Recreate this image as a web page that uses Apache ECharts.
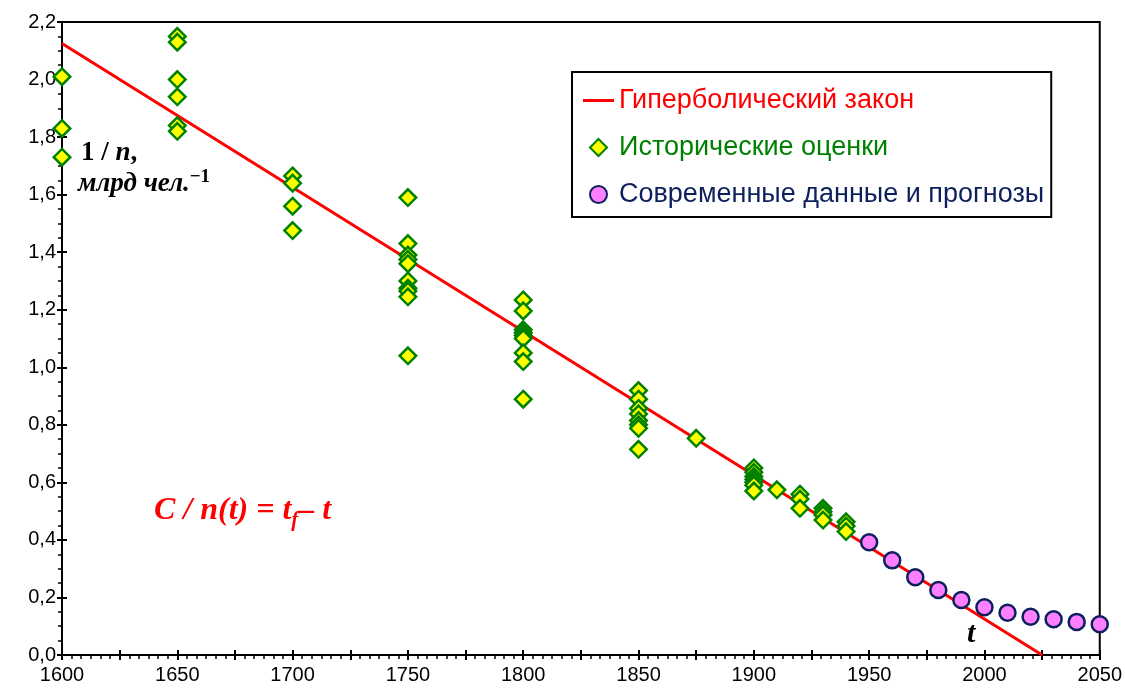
<!DOCTYPE html>
<html>
<head>
<meta charset="utf-8">
<script src="https://cdn.jsdelivr.net/npm/echarts@6/dist/echarts.min.js"></script>
<style>
  html, body { margin: 0; padding: 0; background: #fff; }
  #chart { width: 1125px; height: 693px; }
</style>
</head>
<body>
<div id="chart"></div>
<script>
// Hyperbolic law line: C / n(t) = tf - t, with tf = 2025, C = 200
const lawYears = [1600, 2025];
const lawValues = [2.125, 0];

// Historical estimates of 1/n (billion people^-1)
const histYears = [
  1600, 1600, 1600,
  1650, 1650, 1650, 1650, 1650, 1650,
  1700, 1700, 1700, 1700,
  1750, 1750, 1750, 1750, 1750, 1750, 1750, 1750, 1750, 1750,
  1800, 1800, 1800, 1800, 1800, 1800, 1800, 1800, 1800,
  1850, 1850, 1850, 1850, 1850, 1850, 1850, 1850,
  1875,
  1900, 1900, 1900, 1900, 1900, 1900, 1900,
  1910,
  1920, 1920, 1920,
  1930, 1930, 1930, 1930,
  1940, 1940, 1940
];
const histValues = [
  2.01, 1.83, 1.73,
  2.15, 2.13, 2.00, 1.94, 1.84, 1.82,
  1.665, 1.64, 1.56, 1.475,
  1.59, 1.43, 1.39, 1.375, 1.36, 1.30, 1.275, 1.265, 1.245, 1.04,
  1.234, 1.196, 1.13, 1.12, 1.11, 1.10, 1.05, 1.02, 0.889,
  0.919, 0.889, 0.857, 0.838, 0.815, 0.80, 0.788, 0.715,
  0.753,
  0.65, 0.635, 0.62, 0.61, 0.60, 0.59, 0.57,
  0.574,
  0.559, 0.542, 0.51,
  0.51, 0.498, 0.487, 0.469,
  0.463, 0.448, 0.429
];

// Modern data and forecasts
const modernYears = [1950, 1960, 1970, 1980, 1990, 2000, 2010, 2020, 2030, 2040, 2050];
const modernValues = [0.392, 0.329, 0.270, 0.226, 0.191, 0.166, 0.147, 0.133, 0.124, 0.115, 0.107];

const seriesNames = ['Гиперболический закон', 'Исторические оценки', 'Современные данные и прогнозы'];

const zip = (xs, ys) => xs.map((x, i) => [x, ys[i]]);

const SANS = '"Liberation Sans", Arial, sans-serif';
const SERIF = '"Liberation Serif", "Times New Roman", serif';
const NAVY = '#0d1f5c';

// Legend icons as paths so they keep their aspect inside the icon box
const ICON_LINE = 'path://M0,0 L31,0 L31,3 L0,3 Z';
const ICON_DIAMOND = 'path://M7,0 L14,7 L7,14 L0,7 Z';
const ICON_CIRCLE = 'path://M7,0 A7,7 0 1,1 6.99,0 Z';

const chart = echarts.init(document.getElementById('chart'), null, { renderer: 'canvas' });

const xBase = { type: 'value', min: 1600, max: 2050, interval: 25, position: 'bottom', splitLine: { show: false } };
const yBase = { type: 'value', min: 0, max: 2.2, interval: 0.2, position: 'left', splitLine: { show: false } };

chart.setOption({
  animation: false,
  backgroundColor: '#fff',
  grid: {
    left: 62, right: 25, top: 22, bottom: 38,
    show: true, borderColor: '#000', borderWidth: 2, backgroundColor: '#fff'
  },
  xAxis: [
    Object.assign({}, xBase, {
      axisLine: { lineStyle: { color: '#000', width: 2 } },
      axisTick: { length: 5, lineStyle: { color: '#000', width: 2 } },
      minorTick: { show: true, splitNumber: 6, length: 4, lineStyle: { color: '#000', width: 1.5 } },
      axisLabel: {
        margin: 10, fontSize: 20, color: '#000', fontFamily: SANS,
        formatter: v => (v % 50 === 0 ? String(v) : '')
      }
    }),
    Object.assign({}, xBase, {
      axisLine: { show: false },
      axisTick: { inside: true, length: 5, lineStyle: { color: '#000', width: 2 } },
      axisLabel: { show: false }
    })
  ],
  yAxis: [
    Object.assign({}, yBase, {
      axisLine: { lineStyle: { color: '#000', width: 2 } },
      axisTick: { length: 5, lineStyle: { color: '#000', width: 2 } },
      minorTick: { show: true, splitNumber: 4, length: 4, lineStyle: { color: '#000', width: 1.5 } },
      axisLabel: {
        margin: 6, fontSize: 20, color: '#000', fontFamily: SANS,
        formatter: v => v.toFixed(1).replace('.', ',')
      }
    }),
    Object.assign({}, yBase, {
      axisLine: { show: false },
      axisTick: { inside: true, length: 5, lineStyle: { color: '#000', width: 2 } },
      axisLabel: { show: false }
    })
  ],
  legend: {
    orient: 'vertical',
    left: 572, top: 72,
    padding: [14, 7, 8, 11],
    backgroundColor: '#fff',
    borderColor: '#000',
    borderWidth: 2,
    itemWidth: 31,
    itemHeight: 17,
    itemGap: 18,
    symbolKeepAspect: true,
    selectedMode: false,
    textStyle: { fontSize: 27, fontFamily: SANS, lineHeight: 29 },
    data: [
      { name: seriesNames[0], icon: ICON_LINE, textStyle: { color: '#ff0000' } },
      { name: seriesNames[1], icon: ICON_DIAMOND, textStyle: { color: '#008000' } },
      { name: seriesNames[2], icon: ICON_CIRCLE, textStyle: { color: NAVY } }
    ]
  },
  series: [
    {
      name: seriesNames[0],
      type: 'line',
      data: zip(lawYears, lawValues),
      symbol: 'none',
      lineStyle: { color: '#ff0000', width: 3 },
      itemStyle: { color: '#ff0000' },
      z: 2
    },
    {
      name: seriesNames[1],
      type: 'scatter',
      data: zip(histYears, histValues),
      symbol: 'diamond',
      symbolSize: 16.5,
      itemStyle: { color: '#ffff00', borderColor: '#008000', borderWidth: 2.5, opacity: 1 },
      z: 3
    },
    {
      name: seriesNames[2],
      type: 'scatter',
      data: zip(modernYears, modernValues),
      symbol: 'circle',
      symbolSize: 16,
      itemStyle: { color: '#ff80ff', borderColor: NAVY, borderWidth: 2.5, opacity: 1 },
      z: 4
    }
  ],
  graphic: [
    {
      type: 'text', left: 81, top: 140, z: 10,
      style: {
        text: '{a|1 / }{b|n}{a|,}',
        rich: {
          a: { fontFamily: SERIF, fontSize: 27, fontWeight: 'bold', fill: '#000' },
          b: { fontFamily: SERIF, fontSize: 27, fontWeight: 'bold', fontStyle: 'italic', fill: '#000' }
        }
      }
    },
    {
      type: 'text', left: 78, top: 168, z: 10,
      style: {
        text: '{a|млрд чел.}{s|−1}',
        rich: {
          a: { fontFamily: SERIF, fontSize: 27, fontWeight: 'bold', fontStyle: 'italic', fill: '#000', lineHeight: 32 },
          s: { fontFamily: SERIF, fontSize: 19, fontWeight: 'bold', fill: '#000', lineHeight: 19, verticalAlign: 'top' }
        }
      }
    },
    {
      type: 'text', left: 154, top: 495, z: 10,
      style: {
        text: '{m|C / n(t) = t}{s|f}{m|– t}',
        rich: {
          m: { fontFamily: SERIF, fontSize: 32, fontWeight: 'bold', fontStyle: 'italic', fill: '#ff0000', lineHeight: 40 },
          s: { fontFamily: SERIF, fontSize: 21, fontWeight: 'bold', fontStyle: 'italic', fill: '#ff0000', lineHeight: 22, verticalAlign: 'bottom' }
        }
      }
    },
    {
      type: 'text', left: 967, top: 619, z: 10,
      style: {
        text: 't',
        fontFamily: SERIF, fontSize: 30, fontWeight: 'bold', fontStyle: 'italic', fill: '#000'
      }
    }
  ]
});
</script>
</body>
</html>
